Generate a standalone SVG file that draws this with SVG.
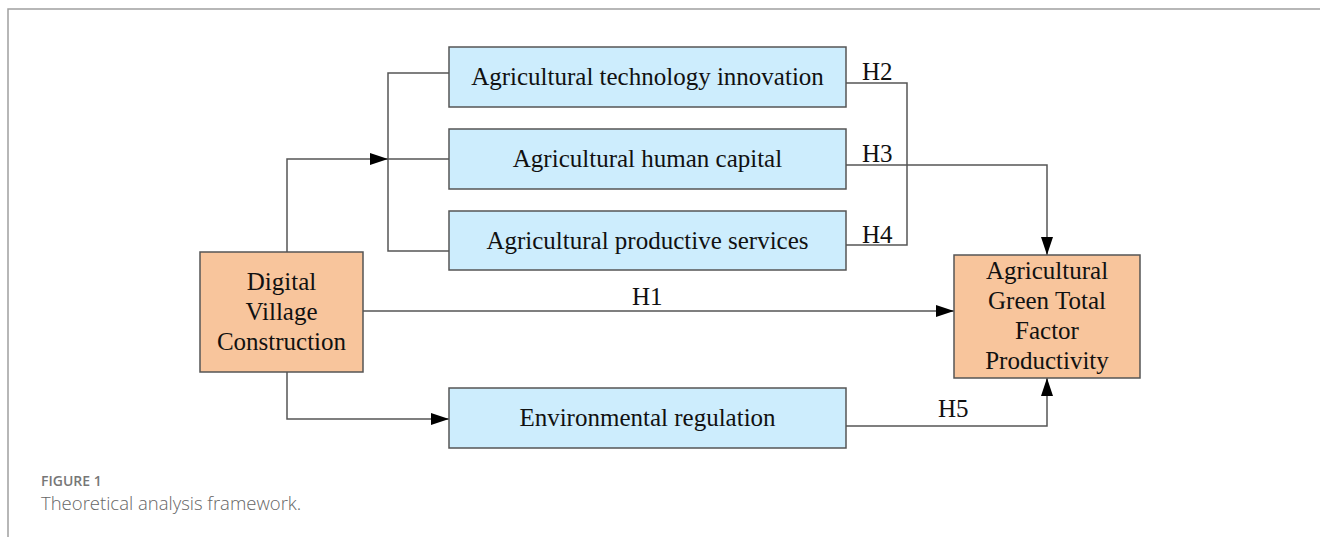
<svg xmlns="http://www.w3.org/2000/svg" width="1320" height="537" viewBox="0 0 1320 537">
<style>
.frame{fill:none;stroke:#a0a0a0;stroke-width:1.5}
.blue{fill:#cdedfd;stroke:#555;stroke-width:1.5}
.orange{fill:#f8c59c;stroke:#555;stroke-width:1.5}
.t{font-family:"Liberation Serif","Times New Roman",serif;font-size:25px;fill:#111;text-anchor:middle;dominant-baseline:central}
.lbl{font-family:"Liberation Serif","Times New Roman",serif;font-size:25px;fill:#111}
.c{fill:none;stroke:#555;stroke-width:1.5}
.cap1{font-family:"Open Sans","Liberation Sans",sans-serif;font-size:14px;font-weight:600;fill:#777}
.cap2{font-family:"Open Sans","Liberation Sans",sans-serif;font-size:18.5px;font-weight:300;fill:#666}
</style>
<defs>
<marker id="ahl" viewBox="0 0 18 12" refX="18" refY="6" markerWidth="18" markerHeight="12" markerUnits="userSpaceOnUse" orient="auto">
<path d="M0,0 L18,6 L0,12 Z" fill="#000"/>
</marker>
</defs>
<path class="frame" d="M8,537 L8,9 L1320,9"/>
<g id="connectors">
<path class="c" d="M449,73 L388,73 L388,251 L449,251"/>
<path class="c" d="M388,159 L449,159"/>
<path class="c" d="M287,252 L287,159 L388,159" marker-end="url(#ahl)"/>
<path class="c" d="M287,372 L287,419 L449,419" marker-end="url(#ahl)"/>
<path class="c" d="M363,311 L954,311" marker-end="url(#ahl)"/>
<path class="c" d="M846,83 L907,83 L907,245 L846,245"/>
<path class="c" d="M846,165 L1047,165 L1047,255" marker-end="url(#ahl)"/>
<path class="c" d="M846,426 L1047,426 L1047,378" marker-end="url(#ahl)"/>
<text class="lbl" x="862" y="80">H2</text>
<text class="lbl" x="862" y="162">H3</text>
<text class="lbl" x="862" y="243">H4</text>
<text class="lbl" x="632" y="305">H1</text>
<text class="lbl" x="938" y="417">H5</text>
</g>
<g id="n-dvc">
<rect class="orange" x="200" y="252" width="163" height="120"/>
<text class="t" x="281.5" y="281">Digital</text>
<text class="t" x="281.5" y="311">Village</text>
<text class="t" x="281.5" y="341">Construction</text>
</g>
<g id="n-tech">
<rect class="blue" x="449" y="47" width="397" height="60"/>
<text class="t" x="647.5" y="76">Agricultural technology innovation</text>
</g>
<g id="n-human">
<rect class="blue" x="449" y="129" width="397" height="60"/>
<text class="t" x="647.5" y="158">Agricultural human capital</text>
</g>
<g id="n-serv">
<rect class="blue" x="449" y="211" width="397" height="59"/>
<text class="t" x="647.5" y="240">Agricultural productive services</text>
</g>
<g id="n-env">
<rect class="blue" x="449" y="388" width="397" height="60"/>
<text class="t" x="647.5" y="417">Environmental regulation</text>
</g>
<g id="n-agtfp">
<rect class="orange" x="954" y="255" width="186" height="123"/>
<text class="t" x="1047" y="270">Agricultural</text>
<text class="t" x="1047" y="300">Green Total</text>
<text class="t" x="1047" y="330">Factor</text>
<text class="t" x="1047" y="360">Productivity</text>
</g>
<text class="cap1" x="41" y="486">FIGURE 1</text>
<text class="cap2" x="41" y="510">Theoretical analysis framework.</text>
</svg>
